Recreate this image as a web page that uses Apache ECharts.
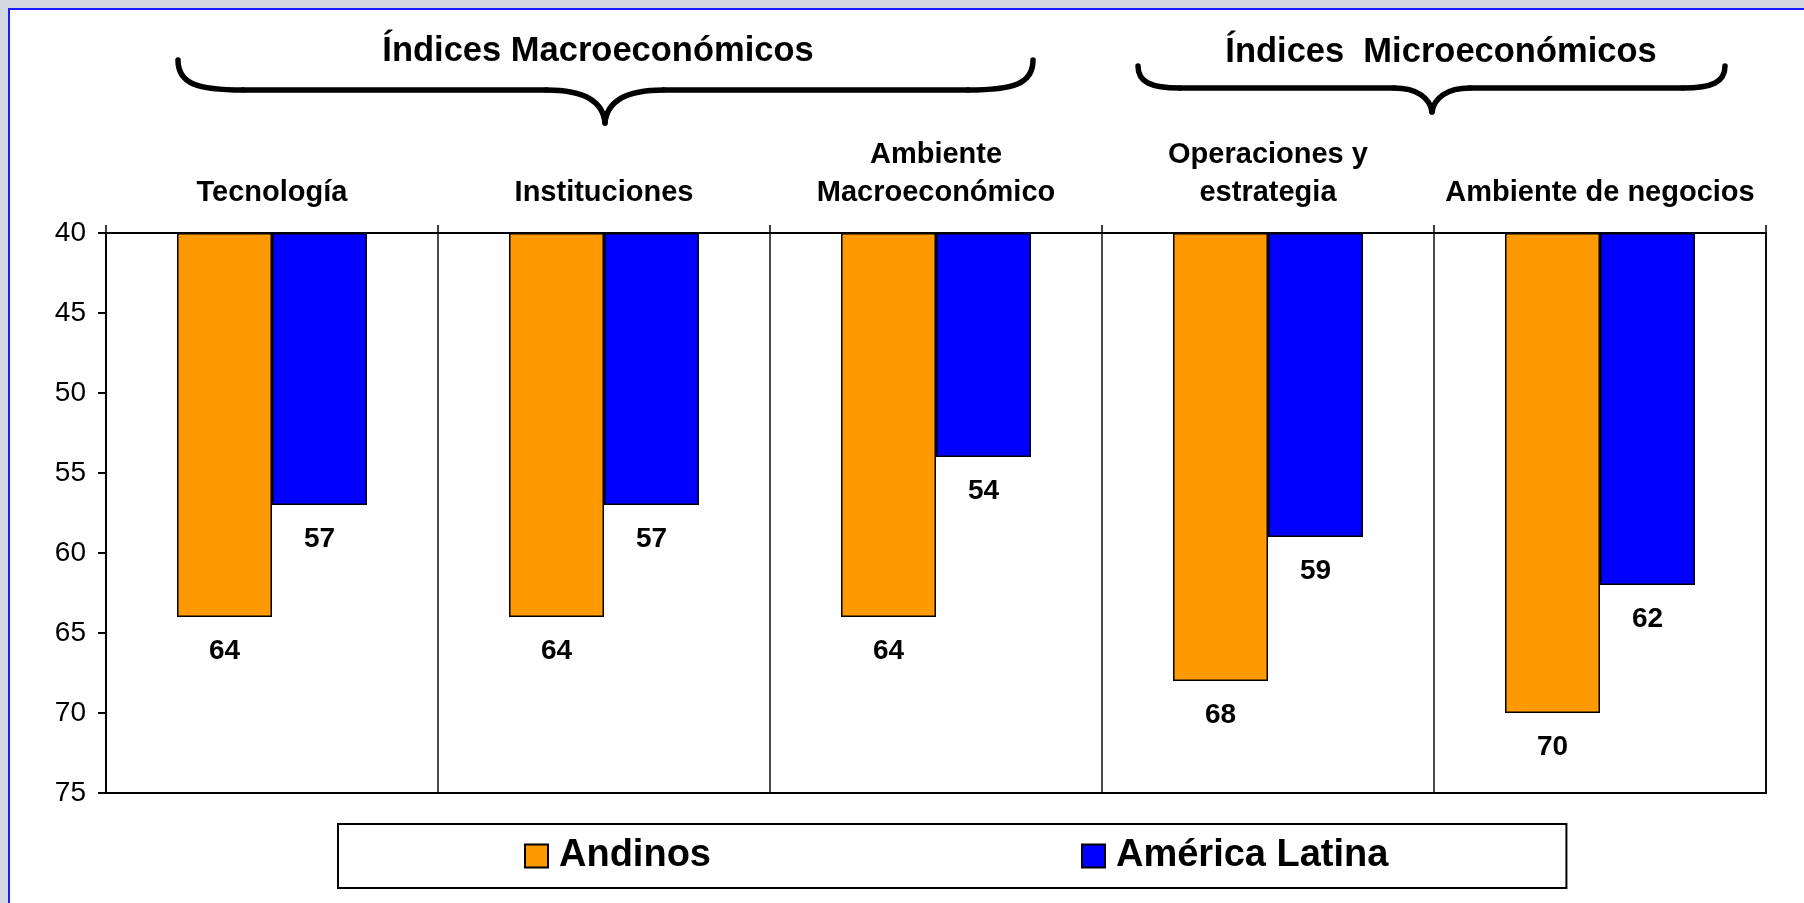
<!DOCTYPE html>
<html>
<head>
<meta charset="utf-8">
<script src="https://cdn.jsdelivr.net/npm/echarts@6/dist/echarts.min.js"></script>
<style>
  html, body { margin: 0; padding: 0; background: #d4d8e0; }
  #chart { width: 1804px; height: 903px; }
</style>
</head>
<body>
<div id="chart"></div>
<script>
const categories = ['Tecnología', 'Instituciones', 'Ambiente\nMacroeconómico', 'Operaciones y\nestrategia', 'Ambiente de negocios']
const andinos = [64, 64, 64, 68, 70]
const americaLatina = [57, 57, 54, 59, 62]
const seriesNames = ['Andinos', 'América Latina']
const groupTitles = ['Índices Macroeconómicos', 'Índices  Microeconómicos']

const FONT = "'Liberation Sans', Arial, sans-serif"
const COLORS = ['#ff9900', '#0000ff']

const chart = echarts.init(document.getElementById('chart'), null, { renderer: 'canvas' })

const barSeries = (name, data, color) => ({
  name,
  type: 'bar',
  data,
  barWidth: 95,
  barGap: '0%',
  itemStyle: { color, borderColor: '#000', borderWidth: 1.5 },
  label: {
    show: true,
    position: 'bottom',
    distance: 20,
    color: '#000',
    fontFamily: FONT,
    fontWeight: 'bold',
    fontSize: 28,
  },
})

// curly brace opening downward: ends at (x1,yEnd) / (x2,yEnd), flat part at yMid, tip at (xt,yTip)
const braceStyle = { fill: null, stroke: '#000', lineWidth: 5.5, lineCap: 'round' }
function brace(x1, x2, xt, yEnd, yMid, yTip, r) {
  const curve = (a, b, c1, c2) => ({
    type: 'bezierCurve', silent: true, style: braceStyle,
    shape: { x1: a[0], y1: a[1], x2: b[0], y2: b[1], cpx1: c1[0], cpy1: c1[1], cpx2: c2[0], cpy2: c2[1] },
  })
  const seg = (a, b) => ({
    type: 'line', silent: true, style: braceStyle,
    shape: { x1: a[0], y1: a[1], x2: b[0], y2: b[1] },
  })
  const t = r * 0.9
  return {
    type: 'group',
    children: [
      curve([x1, yEnd], [x1 + r, yMid], [x1, yMid - 6], [x1 + r * 0.3, yMid]),
      seg([x1 + r, yMid], [xt - t, yMid]),
      curve([xt - t, yMid], [xt, yTip], [xt - t * 0.4, yMid], [xt - 2, yMid + 10]),
      curve([xt, yTip], [xt + t, yMid], [xt + 2, yMid + 10], [xt + t * 0.4, yMid]),
      seg([xt + t, yMid], [x2 - r, yMid]),
      curve([x2 - r, yMid], [x2, yEnd], [x2 - r * 0.3, yMid], [x2, yMid - 6]),
    ],
  }
}

const option = {
  backgroundColor: '#d4d8e0',
  animation: false,
  textStyle: { fontFamily: FONT },
  grid: {
    left: 106, right: 38, top: 233, bottom: 110,
    show: true, backgroundColor: '#fff', borderColor: '#000', borderWidth: 2,
  },
  legend: {
    data: seriesNames,
    left: 338,
    top: 824,
    padding: [12, 178, 12, 186],
    itemGap: 370,
    itemWidth: 23,
    itemHeight: 23,
    icon: 'rect',
    borderColor: '#000',
    borderWidth: 2,
    backgroundColor: '#fff',
    textStyle: {
      color: '#000', fontFamily: FONT, fontWeight: 'bold', fontSize: 38,
      lineHeight: 40, padding: [0, 0, 0, 6],
    },
  },
  xAxis: {
    type: 'category',
    position: 'top',
    data: categories,
    axisLine: { lineStyle: { color: '#000', width: 2 } },
    axisTick: { show: true, length: 8, lineStyle: { color: '#000', width: 1.5 } },
    splitLine: { show: true, lineStyle: { color: '#111', width: 1.5 } },
    axisLabel: {
      interval: 0,
      margin: 21,
      color: '#000',
      fontFamily: FONT,
      fontWeight: 'bold',
      fontSize: 29,
      lineHeight: 38,
    },
  },
  yAxis: {
    type: 'value',
    inverse: true,
    min: 40,
    max: 75,
    interval: 5,
    startValue: 40,
    axisLine: { show: true, lineStyle: { color: '#000', width: 2 } },
    axisTick: { show: true, length: 8, lineStyle: { color: '#000', width: 2 } },
    splitLine: { show: false },
    axisLabel: { color: '#000', fontFamily: FONT, fontSize: 28, margin: 20 },
  },
  graphic: [
    {
      type: 'rect', z: -100, silent: true,
      shape: { x: 9, y: 9, width: 1810, height: 910 },
      style: { fill: '#fff', stroke: '#1a1aff', lineWidth: 2 },
    },
    brace(178, 1033, 605, 60, 90, 123, 65),
    brace(1138, 1725, 1432, 66, 88, 112, 42),
    {
      type: 'text', silent: true, x: 598, y: 51,
      style: { text: groupTitles[0], fill: '#000', font: `bold 34.5px ${FONT}`, align: 'center', verticalAlign: 'middle' },
    },
    {
      type: 'text', silent: true, x: 1441, y: 52,
      style: { text: groupTitles[1], fill: '#000', font: `bold 34.5px ${FONT}`, align: 'center', verticalAlign: 'middle' },
    },
  ],
  series: [
    barSeries(seriesNames[0], andinos, COLORS[0]),
    barSeries(seriesNames[1], americaLatina, COLORS[1]),
  ],
}

chart.setOption(option)
</script>
</body>
</html>
